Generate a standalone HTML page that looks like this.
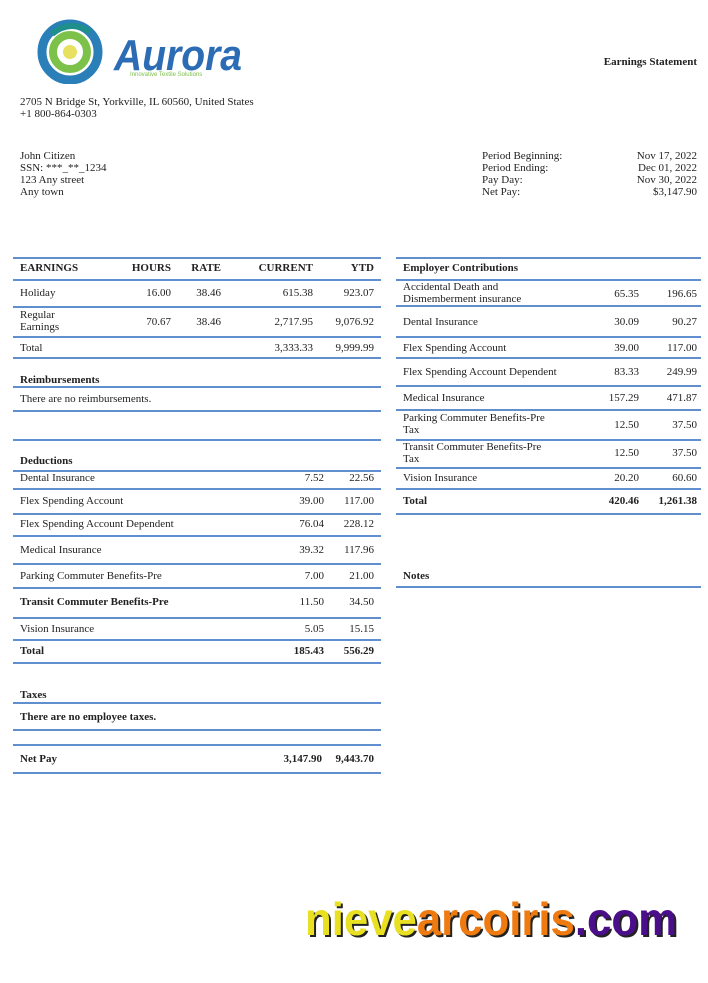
<!DOCTYPE html>
<html><head><meta charset="utf-8"><style>
body{margin:0;width:708px;height:983px;background:#fff;position:relative;overflow:hidden;font-family:"Liberation Serif",serif;font-size:11px;color:#222}
.t{position:absolute;white-space:nowrap;line-height:12px}
.r{text-align:right}
.b{font-weight:bold}
.l{position:absolute;height:2px;background:#5f8fcf}
</style></head><body>
<svg style="position:absolute;left:30px;top:14px" width="230" height="70">
<circle cx="40" cy="38" r="28" fill="none" stroke="#2a7fb8" stroke-width="9"/>
<circle cx="40" cy="38" r="17" fill="none" stroke="#7cc24a" stroke-width="8"/>
<circle cx="40" cy="38" r="7" fill="#e8e060"/>
<path d="M22 20 Q40 5 60 18" stroke="#1e8f8a" stroke-width="6" fill="none"/>
<text x="84" y="56" font-family="Liberation Sans,sans-serif" font-size="44" font-weight="bold" font-style="italic" fill="#2b6cb5" textLength="128" lengthAdjust="spacingAndGlyphs">Aurora</text>
<text x="100" y="62" font-family="Liberation Sans,sans-serif" font-size="6" fill="#7bbf4a">Innovative Textile Solutions</text>
</svg>
<div class="t b r" style="right:11px;top:56px">Earnings Statement</div>
<div class="t" style="left:20px;top:96px">2705 N Bridge St, Yorkville, IL 60560, United States</div>
<div class="t" style="left:20px;top:108px">+1 800-864-0303</div>
<div class="t" style="left:20px;top:150px">John Citizen<br>SSN: ***_**_1234<br>123 Any street<br>Any town</div>
<div class="t" style="left:482px;top:150px">Period Beginning:<br>Period Ending:<br>Pay Day:<br>Net Pay:</div>
<div class="t r" style="right:11px;top:150px">Nov 17, 2022<br>Dec 01, 2022<br>Nov 30, 2022<br>$3,147.90</div>

<div class="l" style="left:13px;width:368px;top:257px"></div>
<div class="l" style="left:13px;width:368px;top:279px"></div>
<div class="l" style="left:13px;width:368px;top:306px"></div>
<div class="l" style="left:13px;width:368px;top:336px"></div>
<div class="l" style="left:13px;width:368px;top:357px"></div>
<div class="l" style="left:13px;width:368px;top:386px"></div>
<div class="l" style="left:13px;width:368px;top:410px"></div>
<div class="l" style="left:13px;width:368px;top:439px"></div>
<div class="l" style="left:13px;width:368px;top:470px"></div>
<div class="l" style="left:13px;width:368px;top:488px"></div>
<div class="l" style="left:13px;width:368px;top:513px"></div>
<div class="l" style="left:13px;width:368px;top:535px"></div>
<div class="l" style="left:13px;width:368px;top:563px"></div>
<div class="l" style="left:13px;width:368px;top:587px"></div>
<div class="l" style="left:13px;width:368px;top:617px"></div>
<div class="l" style="left:13px;width:368px;top:639px"></div>
<div class="l" style="left:13px;width:368px;top:662px"></div>
<div class="l" style="left:13px;width:368px;top:702px"></div>
<div class="l" style="left:13px;width:368px;top:729px"></div>
<div class="l" style="left:13px;width:368px;top:744px"></div>
<div class="l" style="left:13px;width:368px;top:772px"></div>
<div class="l" style="left:396px;width:305px;top:257px"></div>
<div class="l" style="left:396px;width:305px;top:279px"></div>
<div class="l" style="left:396px;width:305px;top:305px"></div>
<div class="l" style="left:396px;width:305px;top:336px"></div>
<div class="l" style="left:396px;width:305px;top:357px"></div>
<div class="l" style="left:396px;width:305px;top:385px"></div>
<div class="l" style="left:396px;width:305px;top:409px"></div>
<div class="l" style="left:396px;width:305px;top:439px"></div>
<div class="l" style="left:396px;width:305px;top:467px"></div>
<div class="l" style="left:396px;width:305px;top:488px"></div>
<div class="l" style="left:396px;width:305px;top:513px"></div>
<div class="l" style="left:396px;width:305px;top:586px"></div>

<div class="t b" style="left:20px;top:262px">EARNINGS</div>
<div class="t b r" style="right:537px;top:262px">HOURS</div>
<div class="t b r" style="right:487px;top:262px">RATE</div>
<div class="t b r" style="right:395px;top:262px">CURRENT</div>
<div class="t b r" style="right:334px;top:262px">YTD</div>
<div class="t" style="left:20px;top:287px">Holiday</div>
<div class="t r" style="right:537px;top:287px">16.00</div>
<div class="t r" style="right:487px;top:287px">38.46</div>
<div class="t r" style="right:395px;top:287px">615.38</div>
<div class="t r" style="right:334px;top:287px">923.07</div>
<div class="t" style="left:20px;top:309px">Regular<br>Earnings</div>
<div class="t r" style="right:537px;top:316px">70.67</div>
<div class="t r" style="right:487px;top:316px">38.46</div>
<div class="t r" style="right:395px;top:316px">2,717.95</div>
<div class="t r" style="right:334px;top:316px">9,076.92</div>
<div class="t" style="left:20px;top:342px">Total</div>
<div class="t r" style="right:395px;top:342px">3,333.33</div>
<div class="t r" style="right:334px;top:342px">9,999.99</div>
<div class="t b" style="left:20px;top:374px">Reimbursements</div>
<div class="t" style="left:20px;top:393px">There are no reimbursements.</div>
<div class="t b" style="left:20px;top:455px">Deductions</div>
<div class="t" style="left:20px;top:472px">Dental Insurance</div><div class="t r" style="right:384px;top:472px">7.52</div><div class="t r" style="right:334px;top:472px">22.56</div>
<div class="t" style="left:20px;top:495px">Flex Spending Account</div><div class="t r" style="right:384px;top:495px">39.00</div><div class="t r" style="right:334px;top:495px">117.00</div>
<div class="t" style="left:20px;top:518px">Flex Spending Account Dependent</div><div class="t r" style="right:384px;top:518px">76.04</div><div class="t r" style="right:334px;top:518px">228.12</div>
<div class="t" style="left:20px;top:544px">Medical Insurance</div><div class="t r" style="right:384px;top:544px">39.32</div><div class="t r" style="right:334px;top:544px">117.96</div>
<div class="t" style="left:20px;top:570px">Parking Commuter Benefits-Pre</div><div class="t r" style="right:384px;top:570px">7.00</div><div class="t r" style="right:334px;top:570px">21.00</div>
<div class="t b" style="left:20px;top:596px">Transit Commuter Benefits-Pre</div><div class="t r" style="right:384px;top:596px">11.50</div><div class="t r" style="right:334px;top:596px">34.50</div>
<div class="t" style="left:20px;top:623px">Vision Insurance</div><div class="t r" style="right:384px;top:623px">5.05</div><div class="t r" style="right:334px;top:623px">15.15</div>
<div class="t b" style="left:20px;top:645px">Total</div><div class="t b r" style="right:384px;top:645px">185.43</div><div class="t b r" style="right:334px;top:645px">556.29</div>
<div class="t b" style="left:20px;top:689px">Taxes</div>
<div class="t b" style="left:20px;top:711px">There are no employee taxes.</div>
<div class="t b" style="left:20px;top:753px">Net Pay</div><div class="t b r" style="right:386px;top:753px">3,147.90</div><div class="t b r" style="right:334px;top:753px">9,443.70</div>

<div class="t b" style="left:403px;top:262px">Employer Contributions</div>
<div class="t" style="left:403px;top:281px">Accidental Death and<br>Dismemberment insurance</div><div class="t r" style="right:69px;top:288px">65.35</div><div class="t r" style="right:11px;top:288px">196.65</div>
<div class="t" style="left:403px;top:316px">Dental Insurance</div><div class="t r" style="right:69px;top:316px">30.09</div><div class="t r" style="right:11px;top:316px">90.27</div>
<div class="t" style="left:403px;top:342px">Flex Spending Account</div><div class="t r" style="right:69px;top:342px">39.00</div><div class="t r" style="right:11px;top:342px">117.00</div>
<div class="t" style="left:403px;top:366px">Flex Spending Account Dependent</div><div class="t r" style="right:69px;top:366px">83.33</div><div class="t r" style="right:11px;top:366px">249.99</div>
<div class="t" style="left:403px;top:392px">Medical Insurance</div><div class="t r" style="right:69px;top:392px">157.29</div><div class="t r" style="right:11px;top:392px">471.87</div>
<div class="t" style="left:403px;top:412px">Parking Commuter Benefits-Pre<br>Tax</div><div class="t r" style="right:69px;top:419px">12.50</div><div class="t r" style="right:11px;top:419px">37.50</div>
<div class="t" style="left:403px;top:441px">Transit Commuter Benefits-Pre<br>Tax</div><div class="t r" style="right:69px;top:447px">12.50</div><div class="t r" style="right:11px;top:447px">37.50</div>
<div class="t" style="left:403px;top:472px">Vision Insurance</div><div class="t r" style="right:69px;top:472px">20.20</div><div class="t r" style="right:11px;top:472px">60.60</div>
<div class="t b" style="left:403px;top:495px">Total</div><div class="t b r" style="right:69px;top:495px">420.46</div><div class="t b r" style="right:11px;top:495px">1,261.38</div>
<div class="t b" style="left:403px;top:570px">Notes</div>

<svg style="position:absolute;left:300px;top:895px" width="390" height="55">
<g font-family="Liberation Sans,sans-serif" font-weight="bold" font-size="46">
<text x="7" y="42" fill="#222" textLength="372" lengthAdjust="spacingAndGlyphs"><tspan>nievearcoiris.com</tspan></text>
<text x="5" y="40" textLength="372" lengthAdjust="spacingAndGlyphs"><tspan fill="#e8e020">nieve</tspan><tspan fill="#ee7a10">arcoiris</tspan><tspan fill="#4a0e8a">.com</tspan></text>
</g></svg>
</body></html>
